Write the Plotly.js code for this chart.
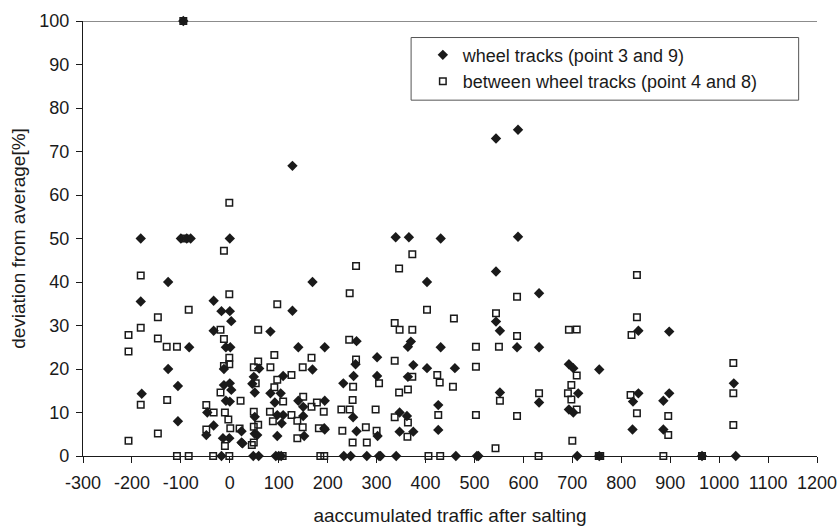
<!DOCTYPE html>
<html>
<head>
<meta charset="utf-8">
<script src="https://cdn.plot.ly/plotly-3.0.1.min.js"></script>
<style>html,body{margin:0;padding:0;background:#fff;}#chart{width:839px;height:526px;}</style>
</head>
<body>
<div id="chart"></div>
<script>
// wheel tracks (point 3 and 9) — filled diamonds
const wheelX = [-95,-100,-88,-80,0,128,339,366,431,544,589,589,
  -182,-182,-180,-126,-33,-17,0,3,-33,-83,-8,1,-12,-126,-12,0,-106,3,-8,0,-46,-106,-33,24,-48,-14,-1,24,
  169,128,83,140,194,60,169,109,49,46,51,83,104,140,194,92,150,97,109,150,51,106,194,51,97,152,193,56,26,
  -17,48,59,94,100,105,233,247,280,305,308,340,462,505,508,710,755,965,1034,
  403,259,370,364,301,257,375,403,253,301,364,232,252,347,362,259,347,375,302,431,460,426,426,
  544,544,552,587,552,632,632,693,702,755,632,712,693,702,
  835,898,835,824,898,886,823,886,1030];
const wheelY = [100,50,50,50,50,66.7,50.3,50.3,50,73,75,50.4,
  50,35.5,14.3,40,35.7,33.3,33.3,31,28.8,25,25,25,20,20,16.3,16.7,16.1,15.2,12.7,12.5,10,8,7,5.7,4.8,4.1,4.1,3.1,
  40,33.4,28.6,25,25,20.1,19.9,18.4,18.2,16.6,14.6,14.4,14.4,12.7,12.7,12.3,11.3,9.4,9.4,9.2,9,7.5,6.1,5.1,4.6,4.6,6.4,4.8,2.9,
  0,0,0,0,0,0,0,0,0,0,0,0,0,0,0,0,0,0,0,
  40,26.4,26.3,25.1,22.7,21.1,20.9,20.2,18.4,18.4,18.2,16.7,8.9,10,9.2,5.7,5.6,5.6,4.6,25,20.2,11.7,6,
  42.4,30.9,28.8,25,14.6,37.4,25,21.1,20.2,19.9,12.3,14.4,10.7,10,
  28.8,28.6,14.4,12.5,14.4,12.7,6.1,6.1,16.7];

// between wheel tracks (point 4 and 8) — open squares
const betweenX = [-95,-92,-1,-12,
  -182,-182,-207,-207,-207,-182,
  -1,-84,-147,-19,-12,-147,-129,-108,-1,-1,-12,-19,-128,22,-48,-33,-10,-3,-48,1,20,-147,-10,
  97,58,91,167,58,49,83,149,126,97,91,150,109,167,178,192,49,82,126,138,88,49,58,149,182,138,45,49,53,
  373,258,346,245,403,337,347,373,244,258,337,373,252,305,346,364,251,228,245,298,337,364,278,230,300,251,280,363,
  458,424,429,456,503,503,426,503,
  544,550,552,587,587,587,693,709,709,698,632,691,698,709,543,700,
  832,832,821,819,832,896,896,1029,1029,1029,
  -108,-84,-34,-1,108,185,193,406,430,631,754,757,886,965];
const betweenY = [100,50,58.2,47.2,
  41.5,29.5,27.8,24,3.5,11.8,
  37.2,33.6,31.9,29,26.9,27,25.1,25.1,22.6,21.1,20.7,14.6,12.9,12.7,11.7,10,10,8.4,6.1,6.4,6.3,5.2,2.3,
  34.9,29,23.2,22.6,21.7,20.4,20.4,20.4,18.6,17.5,15.8,13.6,12.5,11.3,12.3,10.2,10.2,10.2,9.4,8.1,8,6.7,7.2,6.6,6.4,4.1,2.5,3.1,16.7,
  46.4,43.7,43.1,37.4,33.6,30.6,29,29,26.7,22.2,21.9,18.2,15.9,16.7,14.6,15.3,12.9,10.7,10.7,10.7,8.9,7.7,6.6,5.8,5.8,3.1,3.1,4.4,
  31.6,18.6,16.9,15.9,25.1,20.5,9.4,9.4,
  32.8,25.1,12.7,36.6,27.6,9.2,29,29.1,18.5,16.3,14.4,14.4,13,10.7,1.8,3.5,
  41.6,31.9,27.8,14,9.8,9.2,4.8,21.4,14.4,7.1,
  0,0,0,0,0,0,0,0,0,0,0,0,0,0];

const xTicks = [-300,-200,-100,0,100,200,300,400,500,600,700,800,900,1000,1100,1200];
const yTicks = [0,10,20,30,40,50,60,70,80,90,100];

const fam = 'Liberation Sans, Arial, sans-serif';
const tickFont = {family: fam, size: 18, color: '#1a1a1a'};
const titleFont = {family: fam, size: 19, color: '#1a1a1a'};
const legendFont = {family: fam, size: 18, color: '#1a1a1a'};

const traces = [
  {x: wheelX, y: wheelY, type: 'scatter', mode: 'markers', name: 'wheel tracks (point 3 and 9)',
   marker: {symbol: 'diamond', size: 8, color: '#1a1a1a', line: {width: 0}}, cliponaxis: false},
  {x: betweenX, y: betweenY, type: 'scatter', mode: 'markers', name: 'between wheel tracks (point 4 and 8)',
   marker: {symbol: 'square-open', size: 6.5, color: '#1a1a1a', line: {width: 1.5, color: '#1a1a1a'}}, cliponaxis: false}
];

const layout = {
  width: 839, height: 526,
  margin: {l: 83, r: 22, t: 21, b: 70},
  paper_bgcolor: '#fff', plot_bgcolor: '#fff',
  font: tickFont,
  showlegend: true,
  legend: {x: 0.463, y: 0.964, xanchor: 'left', yanchor: 'top', bgcolor: 'rgba(0,0,0,0)',
           borderwidth: 0, font: legendFont, itemsizing: 'trace'},
  xaxis: {range: [-300, 1200], tickvals: xTicks, ticktext: xTicks.map(String),
          showgrid: false, zeroline: false, showline: true, linecolor: '#1a1a1a', linewidth: 1.2,
          ticks: 'outside', ticklen: 6, tickcolor: '#1a1a1a', tickfont: tickFont, ticklabelstandoff: 4,
          title: {text: 'aaccumulated traffic after salting', font: titleFont, standoff: 20}},
  yaxis: {range: [0, 100], tickvals: yTicks, ticktext: yTicks.map(String),
          showgrid: false, zeroline: false, showline: true, linecolor: '#1a1a1a', linewidth: 1.2,
          ticks: 'outside', ticklen: 6, tickcolor: '#1a1a1a', tickfont: tickFont, ticklabelstandoff: 3,
          title: {text: 'deviation from average[%]', font: titleFont, standoff: 8}},
  shapes: [
    {type: 'line', xref: 'paper', yref: 'y', x0: 0, x1: 1, y0: 100, y1: 100,
     line: {color: '#1a1a1a', width: 1.2}, layer: 'below'},
    {type: 'rect', xref: 'paper', yref: 'paper', x0: 0.447, x1: 0.975, y0: 0.818, y1: 0.962,
     line: {color: '#555', width: 1}, fillcolor: '#fff', layer: 'below'}
  ]
};

Plotly.newPlot('chart', traces, layout, {displayModeBar: false, staticPlot: true});
</script>
</body>
</html>
